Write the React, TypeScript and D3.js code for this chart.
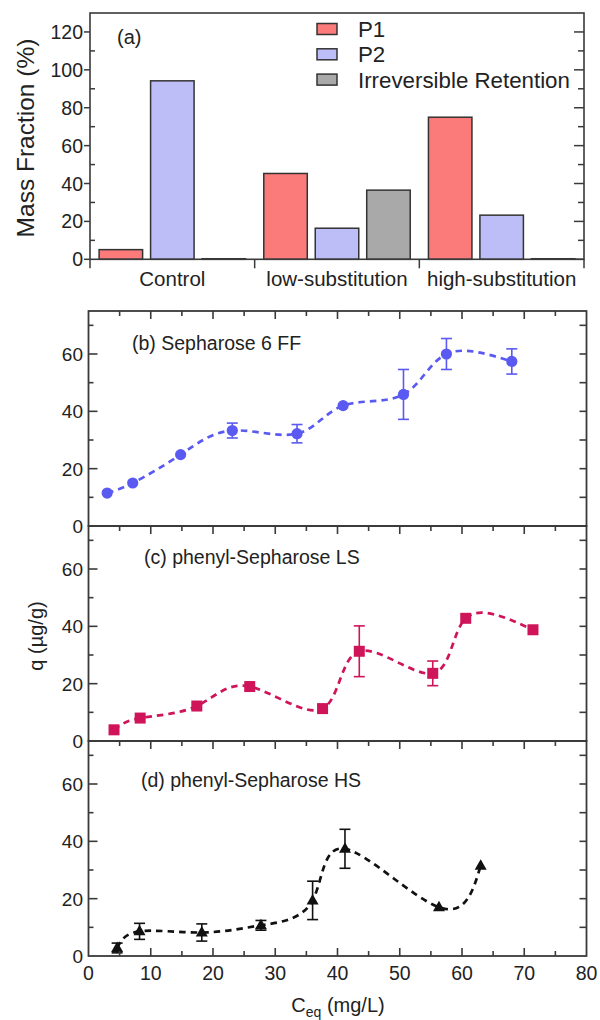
import React from "react";
import * as d3 from "d3";

// ---------- Panel (a) data ----------
const groups = ["Control", "low-substitution", "high-substitution"];
const seriesNames = ["P1", "P2", "Irreversible Retention"];
const p1Values = [5.1, 45.3, 75.0];
const p2Values = [94.2, 16.4, 23.3];
const irValues = [0.3, 36.5, 0.3];
const seriesColors = ["#fb7b7b", "#bdbdf8", "#a9a9a9"];
const massTicks = [0, 20, 40, 60, 80, 100, 120];

// ---------- Panel (b) Sepharose 6 FF ----------
const sephX = [3.0, 7.1, 14.8, 23.1, 33.5, 40.9, 50.6, 57.5, 68.0];
const sephY = [11.5, 15.0, 24.9, 33.3, 32.2, 42.0, 45.9, 60.0, 57.4];
const sephErr = [0, 0, 0, 2.6, 3.2, 0, 8.7, 5.4, 4.4];

// ---------- Panel (c) phenyl-Sepharose LS ----------
const lsX = [4.1, 8.3, 17.4, 25.9, 37.6, 43.5, 55.3, 60.6, 71.4];
const lsY = [3.9, 8.0, 12.2, 19.0, 11.3, 31.3, 23.6, 42.8, 38.8];
const lsErr = [0, 0, 0, 0, 0, 8.85, 4.3, 0, 0];

// ---------- Panel (d) phenyl-Sepharose HS ----------
const hsX = [4.6, 8.2, 18.2, 27.7, 36.0, 41.2, 56.3, 63.0];
const hsY = [2.8, 8.6, 8.2, 10.7, 19.4, 37.4, 17.0, 31.5];
const hsErr = [1.7, 2.8, 3.0, 1.7, 6.7, 6.8, 0, 0];

const qTicks = [0, 20, 40, 60];
const ceqTicks = [0, 10, 20, 30, 40, 50, 60, 70, 80];

const FONT = "'Liberation Sans', Arial, Helvetica, sans-serif";
const AXIS = "#3a3a3a";

type PanelDef = {
  label: string;
  xs: number[];
  ys: number[];
  errs: number[];
  color: string;
  marker: "circle" | "square" | "triangle";
  top: number;
  bottom: number;
  labelX: number;
  labelY: number;
};

const panels: PanelDef[] = [
  { label: "(b) Sepharose 6 FF", xs: sephX, ys: sephY, errs: sephErr, color: "#5a5af2", marker: "circle", top: 311, bottom: 526, labelX: 132, labelY: 350 },
  { label: "(c) phenyl-Sepharose LS", xs: lsX, ys: lsY, errs: lsErr, color: "#cf1459", marker: "square", top: 526, bottom: 741, labelX: 144, labelY: 564 },
  { label: "(d) phenyl-Sepharose HS", xs: hsX, ys: hsY, errs: hsErr, color: "#111111", marker: "triangle", top: 741, bottom: 956, labelX: 141, labelY: 787 },
];

function PanelA() {
  const x0 = 90, x1 = 584, yTop = 13, yBot = 259.3;
  const y = d3.scaleLinear().domain([0, 130]).range([yBot, yTop]);
  const xg = d3.scaleBand<string>().domain(groups).range([x0, x1]);
  const xs = d3.scaleBand<string>().domain(seriesNames).range([0, xg.bandwidth()]).paddingInner(0.155).paddingOuter(0.177);
  const values = [p1Values, p2Values, irValues];
  const minor = d3.range(10, 130, 10).filter((v) => v % 20 !== 0);
  const bounds = [x0, ...groups.map((g) => (xg(g) as number) + xg.bandwidth())];
  return (
    <g>
      {groups.map((g, gi) =>
        seriesNames.map((s, si) => {
          const v = values[si][gi];
          const bx = (xg(g) as number) + (xs(s) as number);
          return (
            <rect key={g + s} x={bx} y={y(v)} width={xs.bandwidth()} height={Math.max(0.5, y(0) - y(v))}
              fill={seriesColors[si]} stroke="#333" strokeWidth={1.5} />
          );
        })
      )}
      <rect x={x0} y={yTop} width={x1 - x0} height={yBot - yTop} fill="none" stroke={AXIS} strokeWidth={1.6} />
      {massTicks.map((t) => (
        <g key={"mt" + t}>
          <line x1={x0 - 6} x2={x0} y1={y(t)} y2={y(t)} stroke={AXIS} strokeWidth={1.5} />
          <line x1={x1 - 10} x2={x1} y1={y(t)} y2={y(t)} stroke={AXIS} strokeWidth={1.5} />
          <text x={83} y={y(t)} dy="0.36em" textAnchor="end" fontSize={19.5} fontFamily={FONT} fill="#222">{t}</text>
        </g>
      ))}
      {minor.map((t) => (
        <g key={"mn" + t}>
          <line x1={x0} x2={x0 + 5} y1={y(t)} y2={y(t)} stroke={AXIS} strokeWidth={1.5} />
          <line x1={x1 - 6} x2={x1} y1={y(t)} y2={y(t)} stroke={AXIS} strokeWidth={1.5} />
        </g>
      ))}
      {bounds.map((b, i) => (
        <line key={"gb" + i} x1={b} x2={b} y1={yBot} y2={yBot + 9} stroke={AXIS} strokeWidth={1.5} />
      ))}
      {groups.map((g) => (
        <text key={"gl" + g} x={(xg(g) as number) + xg.bandwidth() / 2} y={286} textAnchor="middle" fontSize={20.5} fontFamily={FONT} fill="#222">{g}</text>
      ))}
      <text transform={`translate(34,138) rotate(-90)`} textAnchor="middle" fontSize={24.5} fontFamily={FONT} fill="#222">Mass Fraction (%)</text>
      <text x={117} y={44} fontSize={20} fontFamily={FONT} fill="#222">(a)</text>
      {seriesNames.map((s, i) => (
        <g key={"lg" + s}>
          <rect x={317} y={23.5 + i * 25.3} width={20} height={11} fill={seriesColors[i]} stroke="#333" strokeWidth={1.5} />
          <text x={358} y={29 + i * 25.3} dy="0.36em" fontSize={22.3} fontFamily={FONT} fill="#222">{s}</text>
        </g>
      ))}
    </g>
  );
}

function Marker({ kind, cx, cy, color }: { kind: string; cx: number; cy: number; color: string }) {
  if (kind === "circle") return <circle cx={cx} cy={cy} r={5.6} fill={color} />;
  if (kind === "square") return <rect x={cx - 5.5} y={cy - 5.5} width={11} height={11} fill={color} />;
  const h = 10.5, w = 12;
  return <path d={`M${cx},${cy - h * 0.62}L${cx + w / 2},${cy + h * 0.38}L${cx - w / 2},${cy + h * 0.38}Z`} fill={color} />;
}

function DataPanel({ p, showXAxis }: { p: PanelDef; showXAxis: boolean }) {
  const x0 = 88.5, x1 = 586.5;
  const x = d3.scaleLinear().domain([0, 80]).range([x0, x1]);
  const y = d3.scaleLinear().domain([0, 75]).range([p.bottom, p.top]);
  const pts = p.xs.map((v, i) => [v, p.ys[i]] as [number, number]);
  const line = d3.line<[number, number]>().x((d) => x(d[0])).y((d) => y(d[1])).curve(d3.curveNatural);
  const xt = d3.range(5, 80, 5);
  const yt = d3.range(10, 75, 10);
  return (
    <g>
      <path d={line(pts) || ""} fill="none" stroke={p.color} strokeWidth={2.7} strokeDasharray="6.5,5" />
      {p.errs.map((e, i) =>
        e > 0 ? (
          <g key={"e" + i} stroke={p.color} strokeWidth={1.6}>
            <line x1={x(p.xs[i])} x2={x(p.xs[i])} y1={y(p.ys[i] - e)} y2={y(p.ys[i] + e)} />
            <line x1={x(p.xs[i]) - 5.5} x2={x(p.xs[i]) + 5.5} y1={y(p.ys[i] - e)} y2={y(p.ys[i] - e)} />
            <line x1={x(p.xs[i]) - 5.5} x2={x(p.xs[i]) + 5.5} y1={y(p.ys[i] + e)} y2={y(p.ys[i] + e)} />
          </g>
        ) : null
      )}
      {pts.map((d, i) => (
        <Marker key={"m" + i} kind={p.marker} cx={x(d[0])} cy={y(d[1])} color={p.color} />
      ))}
      <rect x={x0} y={p.top} width={x1 - x0} height={p.bottom - p.top} fill="none" stroke={AXIS} strokeWidth={1.8} />
      {xt.map((t) => {
        const len = t % 10 === 0 ? 8 : 5;
        return (
          <g key={"xt" + t}>
            <line x1={x(t)} x2={x(t)} y1={p.top} y2={p.top + len} stroke={AXIS} strokeWidth={1.6} />
            {showXAxis && <line x1={x(t)} x2={x(t)} y1={p.bottom} y2={p.bottom - len} stroke={AXIS} strokeWidth={1.6} />}
          </g>
        );
      })}
      {yt.map((t) => {
        const len = t % 20 === 0 ? 9 : 5;
        return (
          <g key={"yt" + t}>
            <line x1={x0} x2={x0 + len} y1={y(t)} y2={y(t)} stroke={AXIS} strokeWidth={1.6} />
            <line x1={x1} x2={x1 - 7} y1={y(t)} y2={y(t)} stroke={AXIS} strokeWidth={1.6} />
          </g>
        );
      })}
      {qTicks.map((t) => (
        <text key={"yl" + t} x={83} y={y(t)} dy="0.36em" textAnchor="end" fontSize={19} fontFamily={FONT} fill="#222">{t}</text>
      ))}
      <text x={p.labelX} y={p.labelY} fontSize={19.5} fontFamily={FONT} fill="#222">{p.label}</text>
      {showXAxis &&
        ceqTicks.map((t) => (
          <text key={"xl" + t} x={x(t)} y={980} textAnchor="middle" fontSize={19.5} fontFamily={FONT} fill="#222">{t}</text>
        ))}
    </g>
  );
}

export default function App() {
  return (
    <svg width={600} height={1020} viewBox="0 0 600 1020" style={{ position: "absolute", left: 0, top: 0, background: "#fff" }}>
      <rect x={0} y={0} width={600} height={1020} fill="#fff" />
      <PanelA />
      {panels.map((p, i) => (
        <DataPanel key={p.label} p={p} showXAxis={i === panels.length - 1} />
      ))}
      <text transform="translate(43,636) rotate(-90)" textAnchor="middle" fontSize={20} fontFamily={FONT} fill="#222">q (µg/g)</text>
      <text x={338} y={1012} textAnchor="middle" fontSize={20} fontFamily={FONT} fill="#222">
        C<tspan fontSize={14} dy={5}>eq</tspan><tspan dy={-5}> (mg/L)</tspan>
      </text>
    </svg>
  );
}
